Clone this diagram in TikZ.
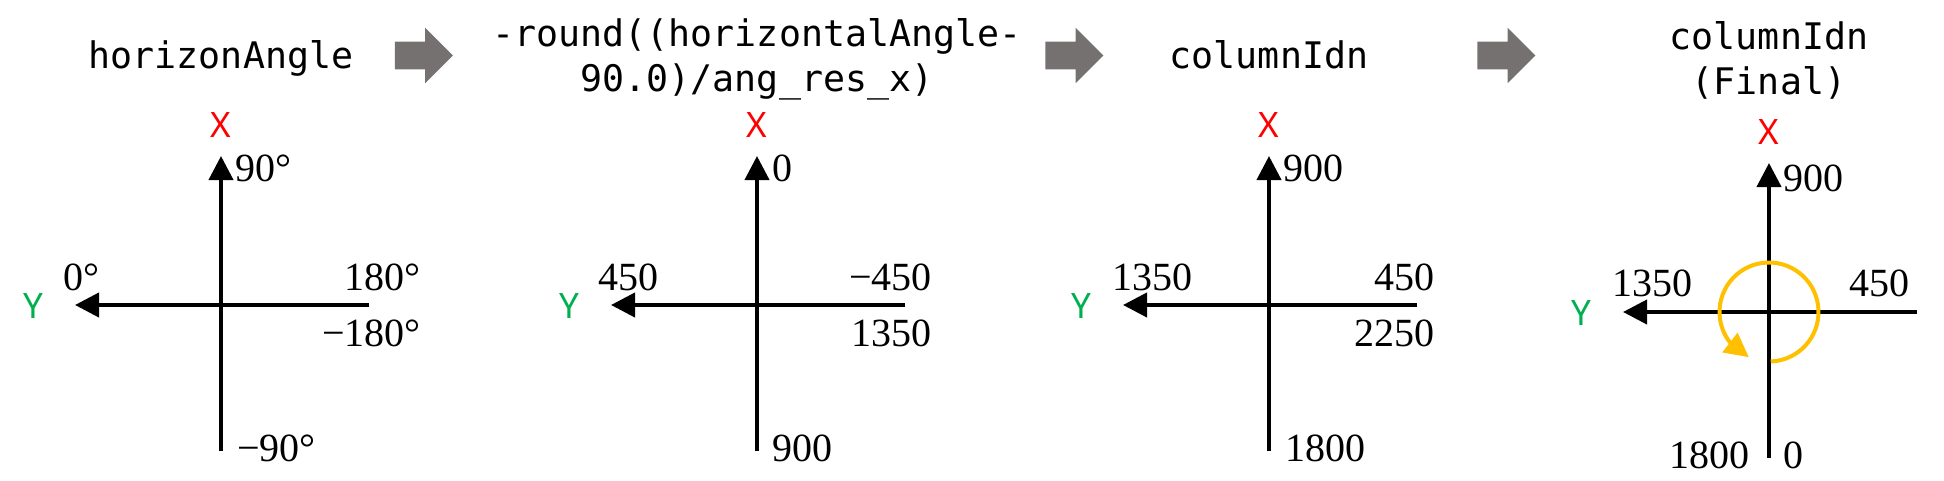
\documentclass[tikz,border=0pt]{standalone}
\usepackage{fontspec}
\setmainfont{Liberation Serif}
\newfontfamily\codefont{DejaVu Sans Mono}
\newfontfamily\axisfont{Noto Sans}
\usetikzlibrary{arrows.meta, bending, shapes.arrows, positioning}
\definecolor{axisred}{RGB}{255,0,0}
\definecolor{axisgreen}{RGB}{0,176,80}
\definecolor{flowgray}{RGB}{118,113,113}
\definecolor{rotorange}{RGB}{255,192,0}

\begin{document}
\begin{tikzpicture}[
    x=0.5pt, y=-0.5pt,
    title/.style={font=\codefont\fontsize{18.3}{22.5}\selectfont, align=center, inner sep=0pt},
    flow/.style={single arrow, fill=flowgray, inner xsep=0pt, inner ysep=6.75pt, minimum height=29pt, single arrow head extend=7pt},
    axis/.style={line width=2pt, -{Triangle[length=12pt, width=12pt]}},
    axlabel/.style={font=\axisfont\fontsize{17.5}{20}\selectfont, inner sep=0pt},
    val/.style={font=\fontsize{20}{24}\selectfont, inner sep=0pt},
    rot/.style={line width=2pt, draw=rotorange, -{Triangle[length=12pt, width=12pt, fill=rotorange]}}
]
    \useasboundingbox (0,0) rectangle (1944,481);

    % titles and flow arrows
    \node[title, anchor=base] (t1) at (221,69) {horizonAngle};
    \node[title, anchor=base] (t2) at (757,92) {-round((horizontalAngle-\\90.0)/ang\_res\_x)};
    \node[title, anchor=base] (t3) at (1269,69) {columnIdn};
    \node[title, anchor=base] (t4) at (1769,95) {columnIdn\\(Final)};
    \node[flow] (f1) at (417,55.5) {};
    \node[flow] (f2) at (1067.5,55.5) {};
    \node[flow] (f3) at (1499.5,55.5) {};

    % axes
    \foreach \n/\ox/\oy in {1/221/305, 2/757/305, 3/1269/305, 4/1769/312} {
        \coordinate (o\n) at (\ox,\oy);
        \coordinate (top\n) at (\ox,\oy-149);
        \coordinate (bot\n) at (\ox,\oy+146);
        \coordinate (lft\n) at (\ox-146,\oy);
        \coordinate (rgt\n) at (\ox+148,\oy);
        \draw[axis] (bot\n) -- (top\n);
        \draw[axis] (rgt\n) -- (lft\n);
        \node[axlabel, text=axisred] (xl\n) at (\ox,\oy-180) {X};
        \node[axlabel, text=axisgreen] (yl\n) at (\ox-188,\oy+1) {Y};
    }

    % panel 1
    \node[val, anchor=west] (a1) at (235,168) {90°};
    \node[val, anchor=west] (b1) at (63,277) {0°};
    \node[val, anchor=east] (c1) at (421,277) {180°};
    \node[val, anchor=east] (d1) at (421,333) {−180°};
    \node[val, anchor=west] (e1) at (237,448) {−90°};

    % panel 2
    \node[val, anchor=west] (a2) at (772,168) {0};
    \node[val, anchor=west] (b2) at (598,277) {450};
    \node[val, anchor=east] (c2) at (932,277) {−450};
    \node[val, anchor=east] (d2) at (932,333) {1350};
    \node[val, anchor=west] (e2) at (772,448) {900};

    % panel 3
    \node[val, anchor=west] (a3) at (1283,168) {900};
    \node[val, anchor=west] (b3) at (1112,277) {1350};
    \node[val, anchor=east] (c3) at (1435,277) {450};
    \node[val, anchor=east] (d3) at (1435,333) {2250};
    \node[val, anchor=west] (e3) at (1285,448) {1800};

    % panel 4
    \node[val, anchor=west] (a4) at (1783,178) {900};
    \node[val, anchor=west] (b4) at (1612,283) {1350};
    \node[val, anchor=east] (c4) at (1910,283) {450};
    \node[val, anchor=east] (d4) at (1750,455) {1800};
    \node[val, anchor=west] (e4) at (1783,455) {0};
    \draw[rot] ([shift={(88:49.5)}]o4) arc[start angle=88, end angle=-246, radius=49.5];

\end{tikzpicture}
\end{document}
